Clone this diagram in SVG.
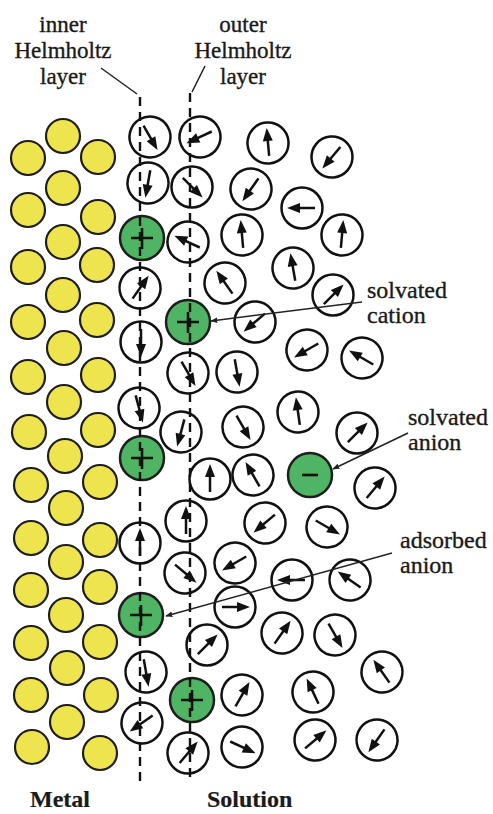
<svg xmlns="http://www.w3.org/2000/svg" xmlns:xlink="http://www.w3.org/1999/xlink" width="493" height="814" viewBox="0 0 493 814">
  <style>
    .lbl { font-family: "Liberation Serif", "Times New Roman", serif; font-size: 24px; fill: #1a1a1a; stroke: #1a1a1a; stroke-width: 0.35px; }
    .top { font-size: 23px; }
    .bold { font-weight: bold; stroke-width: 0.2px; }
    .metal { fill: #eee44e; stroke: #1e1e1e; stroke-width: 2.2; }
    .ion { fill: #4fb463; stroke: #1e1e1e; stroke-width: 2.5; }
    .sign { stroke: #111; stroke-width: 2.6; fill: none; }
    .plane { stroke: #111; stroke-width: 2.4; stroke-dasharray: 9 6; fill: none; }
    .lead { stroke: #222; stroke-width: 1.5; fill: none; }
  </style>
  <defs>
    <!-- water dipole: circle with an arrow pointing up (rotated per molecule) -->
    <g id="w">
      <circle r="20.5" fill="#fff" stroke="#111" stroke-width="2.5"/>
      <line x1="0" y1="13" x2="0" y2="-4" stroke="#111" stroke-width="2.5"/>
      <polygon points="0,-15 -5,-2 5,-2" fill="#111"/>
    </g>
    <marker id="ah" viewBox="0 0 10 10" refX="9" refY="5" markerWidth="7" markerHeight="7" orient="auto" markerUnits="userSpaceOnUse">
      <path d="M0,1 L10,5 L0,9 z" fill="#222"/>
    </marker>
  </defs>

  <rect width="493" height="814" fill="#fff"/>

  <!-- metal lattice -->
  <g id="metal">
    <circle class="metal" cx="28" cy="158" r="17"/>
    <circle class="metal" cx="28" cy="210" r="17"/>
    <circle class="metal" cx="28" cy="267" r="17"/>
    <circle class="metal" cx="28" cy="322" r="17"/>
    <circle class="metal" cx="28" cy="377" r="17"/>
    <circle class="metal" cx="29" cy="432" r="17"/>
    <circle class="metal" cx="31" cy="485" r="17"/>
    <circle class="metal" cx="31" cy="538" r="17"/>
    <circle class="metal" cx="31" cy="590" r="17"/>
    <circle class="metal" cx="31" cy="643" r="17"/>
    <circle class="metal" cx="31" cy="695" r="17"/>
    <circle class="metal" cx="32" cy="747" r="17"/>

    <circle class="metal" cx="63" cy="136" r="17"/>
    <circle class="metal" cx="63" cy="188" r="17"/>
    <circle class="metal" cx="63" cy="242" r="17"/>
    <circle class="metal" cx="63" cy="295" r="17"/>
    <circle class="metal" cx="64" cy="348" r="17"/>
    <circle class="metal" cx="64" cy="402" r="17"/>
    <circle class="metal" cx="65" cy="456" r="17"/>
    <circle class="metal" cx="66" cy="508" r="17"/>
    <circle class="metal" cx="66" cy="562" r="17"/>
    <circle class="metal" cx="66" cy="615" r="17"/>
    <circle class="metal" cx="67" cy="668" r="17"/>
    <circle class="metal" cx="67" cy="722" r="17"/>

    <circle class="metal" cx="98" cy="157" r="17"/>
    <circle class="metal" cx="98" cy="217" r="17"/>
    <circle class="metal" cx="97" cy="265" r="17"/>
    <circle class="metal" cx="97" cy="320" r="17"/>
    <circle class="metal" cx="98" cy="375" r="17"/>
    <circle class="metal" cx="98" cy="430" r="17"/>
    <circle class="metal" cx="100" cy="482" r="17"/>
    <circle class="metal" cx="100" cy="540" r="17"/>
    <circle class="metal" cx="100" cy="587" r="17"/>
    <circle class="metal" cx="100" cy="642" r="17"/>
    <circle class="metal" cx="101" cy="695" r="17"/>
    <circle class="metal" cx="100" cy="753" r="17"/>
  </g>

  <!-- water molecules -->
  <g id="water">
    <!-- inner Helmholtz layer -->
    <use href="#w" transform="translate(150,137) rotate(150)"/>
    <use href="#w" transform="translate(148,183) rotate(190)"/>
    <use href="#w" transform="translate(140,288) rotate(35)"/>
    <use href="#w" transform="translate(141,342) rotate(180)"/>
    <use href="#w" transform="translate(139,408) rotate(165)"/>
    <use href="#w" transform="translate(140,543) rotate(0)"/>
    <use href="#w" transform="translate(146,672) rotate(170)"/>
    <use href="#w" transform="translate(142,723) rotate(235)"/>
    <!-- outer Helmholtz layer -->
    <use href="#w" transform="translate(200,137) rotate(245)"/>
    <use href="#w" transform="translate(192,187) rotate(135)"/>
    <use href="#w" transform="translate(188,242) rotate(295)"/>
    <use href="#w" transform="translate(188,373) rotate(150)"/>
    <use href="#w" transform="translate(181,432) rotate(195)"/>
    <use href="#w" transform="translate(186,521) rotate(0)"/>
    <use href="#w" transform="translate(185,573) rotate(130)"/>
    <use href="#w" transform="translate(207,645) rotate(45)"/>
    <use href="#w" transform="translate(188,753) rotate(40)"/>
    <!-- bulk solution -->
    <use href="#w" transform="translate(268,143) rotate(-5)"/>
    <use href="#w" transform="translate(332,157) rotate(220)"/>
    <use href="#w" transform="translate(251,189) rotate(215)"/>
    <use href="#w" transform="translate(302,208) rotate(270)"/>
    <use href="#w" transform="translate(242,235) rotate(-5)"/>
    <use href="#w" transform="translate(342,235) rotate(5)"/>
    <use href="#w" transform="translate(225,283) rotate(325)"/>
    <use href="#w" transform="translate(293,268) rotate(-10)"/>
    <use href="#w" transform="translate(333,295) rotate(45)"/>
    <use href="#w" transform="translate(255,322) rotate(230)"/>
    <use href="#w" transform="translate(307,350) rotate(240)"/>
    <use href="#w" transform="translate(362,358) rotate(300)"/>
    <use href="#w" transform="translate(237,372) rotate(170)"/>
    <use href="#w" transform="translate(243,427) rotate(150)"/>
    <use href="#w" transform="translate(298,412) rotate(-8)"/>
    <use href="#w" transform="translate(357,433) rotate(45)"/>
    <use href="#w" transform="translate(210,479) rotate(0)"/>
    <use href="#w" transform="translate(253,475) rotate(330)"/>
    <use href="#w" transform="translate(375,488) rotate(40)"/>
    <use href="#w" transform="translate(265,523) rotate(230)"/>
    <use href="#w" transform="translate(327,527) rotate(120)"/>
    <use href="#w" transform="translate(235,563) rotate(240)"/>
    <use href="#w" transform="translate(292,580) rotate(270)"/>
    <use href="#w" transform="translate(350,580) rotate(305)"/>
    <use href="#w" transform="translate(235,607) rotate(90)"/>
    <use href="#w" transform="translate(282,633) rotate(35)"/>
    <use href="#w" transform="translate(335,635) rotate(150)"/>
    <use href="#w" transform="translate(382,672) rotate(325)"/>
    <use href="#w" transform="translate(242,695) rotate(30)"/>
    <use href="#w" transform="translate(313,692) rotate(335)"/>
    <use href="#w" transform="translate(242,747) rotate(115)"/>
    <use href="#w" transform="translate(315,740) rotate(50)"/>
    <use href="#w" transform="translate(377,740) rotate(215)"/>
  </g>

  <!-- ions -->
  <g id="cation-inner-1"><circle class="ion" cx="142" cy="238" r="22"/><path class="sign" d="M131,238 H153 M142,228 V249"/></g>
  <g id="cation-outer-1"><circle class="ion" cx="188" cy="322" r="22"/><path class="sign" d="M177,322 H199 M188,312 V333"/></g>
  <g id="cation-inner-2"><circle class="ion" cx="142" cy="458" r="22"/><path class="sign" d="M131,458 H153 M142,448 V469"/></g>
  <g id="cation-inner-3"><circle class="ion" cx="141" cy="615" r="22"/><path class="sign" d="M130,615 H152 M141,605 V626"/></g>
  <g id="cation-outer-2"><circle class="ion" cx="192" cy="700" r="22"/><path class="sign" d="M181,700 H203 M192,690 V711"/></g>
  <g id="anion-solvated"><circle class="ion" cx="310" cy="475" r="22"/><path class="sign" d="M302,475 H318"/></g>

  <!-- Helmholtz planes -->
  <g id="planes">
    <line class="plane" x1="140" y1="97" x2="140" y2="782"/>
    <line class="plane" x1="190" y1="93" x2="190" y2="780"/>
  </g>

  <!-- leader lines -->
  <g id="connectors">
    <line class="lead" x1="101" y1="68" x2="137" y2="94"/>
    <line class="lead" x1="205" y1="66" x2="192" y2="92"/>
    <line class="lead" x1="362" y1="302" x2="211" y2="321" marker-end="url(#ah)"/>
    <line class="lead" x1="408" y1="433" x2="333" y2="469" marker-end="url(#ah)"/>
    <line class="lead" x1="392" y1="553" x2="166" y2="616" marker-end="url(#ah)"/>
  </g>

  <!-- labels -->
  <g id="labels">
    <text class="lbl top" x="63" y="32" text-anchor="middle">inner</text>
    <text class="lbl top" x="63" y="58" text-anchor="middle">Helmholtz</text>
    <text class="lbl top" x="63" y="84" text-anchor="middle">layer</text>
    <text class="lbl top" x="243" y="32" text-anchor="middle">outer</text>
    <text class="lbl top" x="243" y="58" text-anchor="middle">Helmholtz</text>
    <text class="lbl top" x="243" y="84" text-anchor="middle">layer</text>
    <text class="lbl" x="367" y="298">solvated</text>
    <text class="lbl" x="367" y="323">cation</text>
    <text class="lbl" x="408" y="425">solvated</text>
    <text class="lbl" x="408" y="450">anion</text>
    <text class="lbl" x="400" y="548">adsorbed</text>
    <text class="lbl" x="400" y="573">anion</text>
    <text class="lbl bold" x="30" y="807">Metal</text>
    <text class="lbl bold" x="207" y="807">Solution</text>
  </g>
</svg>
